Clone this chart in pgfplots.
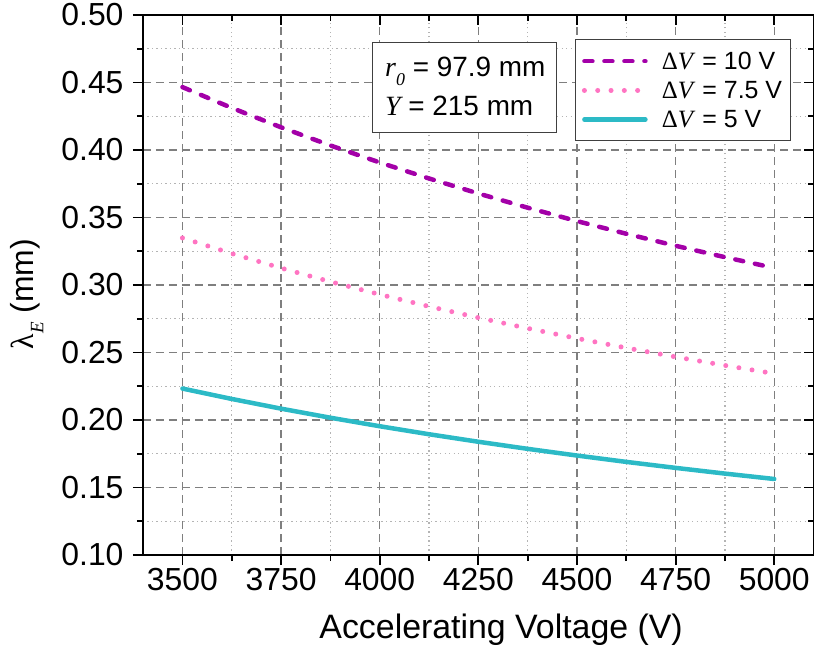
\documentclass[border=0pt]{standalone}
\usepackage{fontspec}
\setmainfont{Liberation Sans}
\newfontfamily\serif{Liberation Serif}
\usepackage{pgfplots}
\pgfplotsset{compat=1.18}
\definecolor{cpurple}{HTML}{A300A8}
\definecolor{cpink}{HTML}{FF74C2}
\definecolor{cteal}{HTML}{2CBAC6}
\definecolor{majgrid}{HTML}{7F7F7F}
\definecolor{mingrid}{HTML}{B4B4B4}
\begin{document}
\begin{tikzpicture}
\useasboundingbox (-143bp,-98bp) rectangle (671bp,555bp);
\pgfplotsset{
  common/.style={
    scale only axis, width=670.7bp, height=540bp,
    xmin=3400, xmax=5100, ymin=0.10, ymax=0.50,
    xtick={3500,3750,4000,4250,4500,4750,5000},
    ytick={0.10,0.15,0.20,0.25,0.30,0.35,0.40,0.45,0.50},
    minor x tick num=1, minor y tick num=1,
    major tick length=10bp, minor tick length=6bp,
    tick style={line width=1.8bp, black},
    axis line style={line width=2bp, black},
  }
}
\begin{axis}[common,
  xtick pos=left, ytick pos=left, tick align=outside,
  /pgf/number format/assume math mode=true,
  x tick label style={/pgf/number format/1000 sep={}},
  y tick label style={/pgf/number format/fixed, /pgf/number format/fixed zerofill, /pgf/number format/precision=2, xshift=-6bp},
  tick label style={font=\fontsize{32}{38}\selectfont},
  grid=both,
  major grid style={dash pattern=on 8bp off 5bp, line width=1.3bp, majgrid},
  minor grid style={dash pattern=on 1.3bp off 3.2bp, line width=1.3bp, mingrid},
  xlabel={Accelerating Voltage (V)},
  xlabel style={font=\fontsize{34}{38}\selectfont, at={(axis description cs:0.534,-0.139)}, anchor=center},
  ylabel={{\serif λ}\raisebox{-0.3em}{\fontsize{19}{19}\selectfont\serif\itshape E} (mm)},
  ylabel style={font=\fontsize{32}{38}\selectfont, at={(axis description cs:-0.173,0.483)}, anchor=center},
  legend cell align=left,
  legend image code/.code={\draw[#1] (0bp,0bp) -- (61bp,0bp);},
  legend style={at={(rel axis cs:0.644,0.955)}, anchor=north west,
    draw=black!75, line width=1bp, fill=white,
    font=\fontsize{25}{30}\selectfont,
    inner xsep=6.5bp, inner ysep=10bp, row sep=6.5bp,
    /tikz/every odd column/.append style={column sep=12bp}},
]
\addplot[cpurple, line width=4.5bp, line cap=round, dash pattern=on 8bp off 12bp] coordinates {
(3500,0.44657) (3625,0.43117) (3750,0.41680) (3875,0.40335) (4000,0.39075)
(4125,0.37891) (4250,0.36776) (4375,0.35726) (4500,0.34733) (4625,0.33795)
(4750,0.32905) (4875,0.32062) (5000,0.31260)};
\addlegendentry{{\serif Δ\textit{V}} = 10 V}
\addplot[cpink, line width=5bp, line cap=round, dash pattern=on 0bp off 13.3bp] coordinates {
(3500,0.33486) (3625,0.32331) (3750,0.31253) (3875,0.30245) (4000,0.29300)
(4125,0.28412) (4250,0.27576) (4375,0.26789) (4500,0.26044) (4625,0.25341)
(4750,0.24674) (4875,0.24041) (5000,0.23440)};
\addlegendentry{{\serif Δ\textit{V}} = 7.5 V}
\addplot[cteal, line width=4.5bp, line cap=round] coordinates {
(3500,0.22329) (3625,0.21559) (3750,0.20840) (3875,0.20168) (4000,0.19538)
(4125,0.18945) (4250,0.18388) (4375,0.17863) (4500,0.17367) (4625,0.16897)
(4750,0.16453) (4875,0.16030) (5000,0.15630)};
\addlegendentry{{\serif Δ\textit{V}} = 5 V}
\draw[fill=white, line width=1bp, draw=black!75] (rel axis cs:0.342,0.949) rectangle (rel axis cs:0.6158,0.782);
\node[anchor=base west, inner sep=0bp, font=\fontsize{28}{32}\selectfont] at (rel axis cs:0.3608,0.8857)
  {{\serif\itshape r\raisebox{-0.3em}{\fontsize{18}{18}\selectfont 0}} = 97.9 mm};
\node[anchor=base west, inner sep=0bp, font=\fontsize{28}{32}\selectfont] at (rel axis cs:0.3608,0.8148)
  {{\serif\itshape Y} = 215 mm};
\end{axis}
\begin{axis}[common,
  xtick pos=right, ytick pos=right, tick align=inside,
  xticklabels={}, yticklabels={},
]
\end{axis}
\end{tikzpicture}
\end{document}
